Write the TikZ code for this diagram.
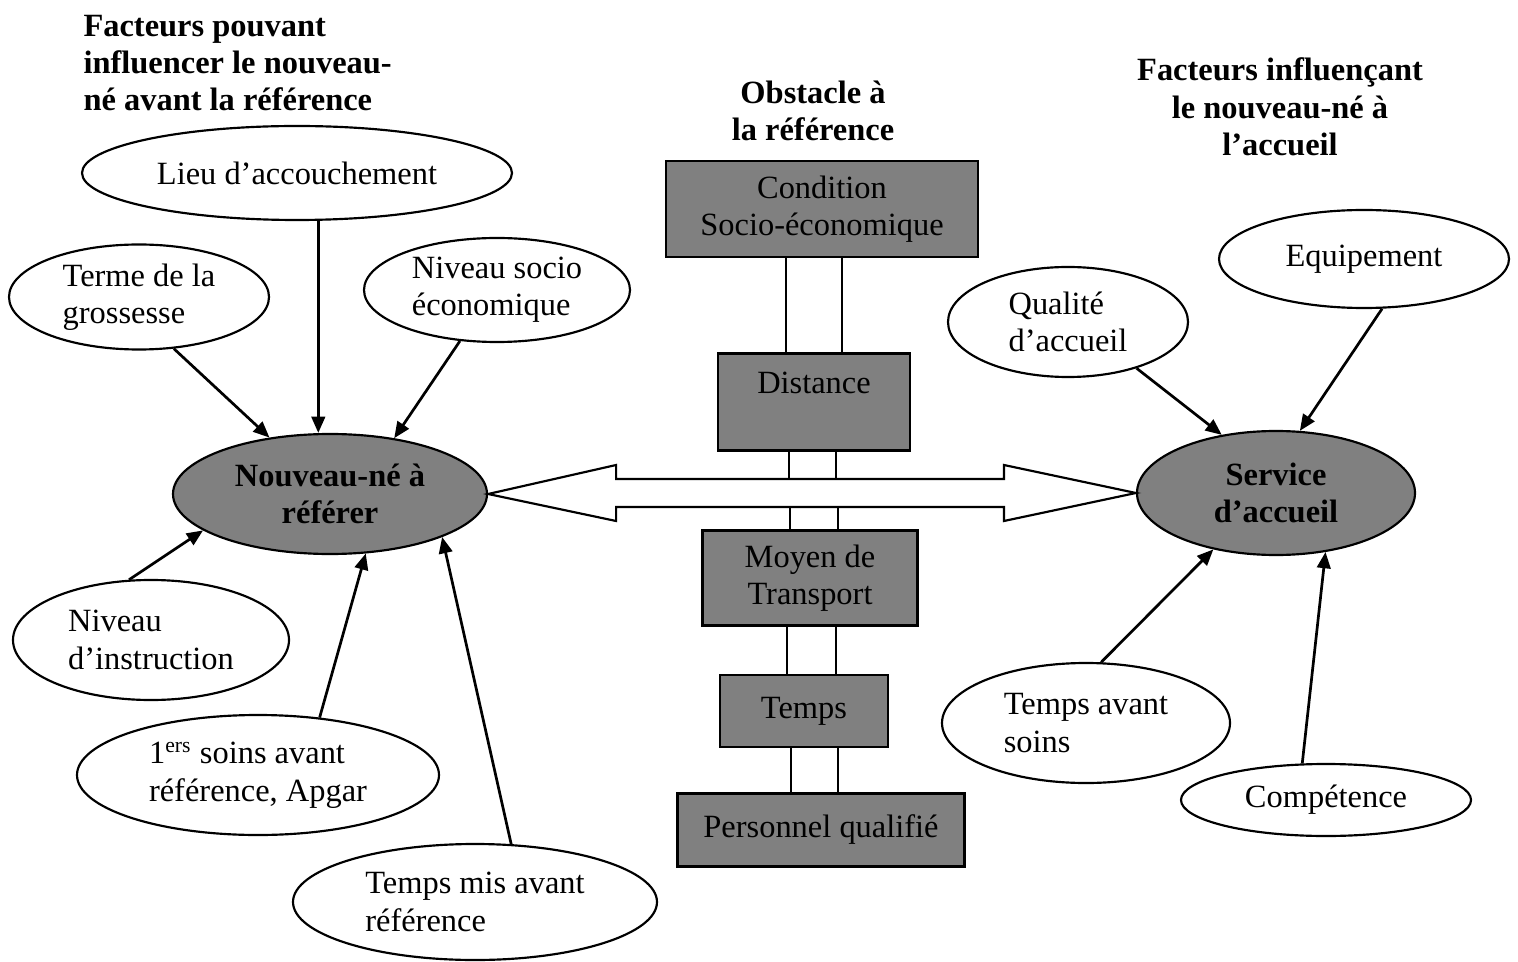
\documentclass[tikz,border=0pt]{standalone}
\usepackage{fontspec}
\setmainfont{Liberation Serif}
\usetikzlibrary{arrows.meta,shapes.geometric,calc}
\definecolor{boxgray}{HTML}{808080}
\newcommand{\px}{0.013cm}

\begin{document}
\begin{tikzpicture}[
  x=\px,y=-\px,
  font=\fontsize{12}{13.8}\selectfont,
  sz/.style 2 args={minimum width=#1*\px,minimum height=#2*\px},
  box/.style={draw,line width=0.8pt,fill=boxgray,align=center,inner sep=2pt},
  oval/.style={ellipse,draw,line width=0.8pt,fill=white,align=left,inner xsep=-6pt,inner ysep=-4pt},
  hub/.style={oval,fill=boxgray,align=center,font=\fontsize{12}{13.8}\selectfont\bfseries},
  head/.style={font=\fontsize{12}{13.8}\selectfont\bfseries,inner sep=0pt},
  arr/.style={-{Triangle[length=6pt,width=5pt]},line width=1pt},
  link/.style={line width=0.8pt},
  wide/.style={draw,line width=0.8pt,fill=white}]
\useasboundingbox (0,0) rectangle (1518,962);

% titres
\node[head,align=left,anchor=west] (ttl) at (83,63) {Facteurs pouvant\\influencer le nouveau-\\né avant la référence};
\node[head,align=center] (ttm) at (813,111) {Obstacle à\\la référence};
\node[head,align=center] (ttr) at (1280,107) {Facteurs influençant\\le nouveau-né à\\l’accueil};

% noeuds centraux
\node[hub,sz={314}{120}] (nouveau) at (330,494) {Nouveau-né à\\référer};
\node[hub,sz={278}{124}] (service) at (1276,493) {Service\\d’accueil};

% facteurs avant la reference
\node[oval,sz={430}{94}] (lieu) at (297,173) {Lieu d’accouchement};
\node[oval,sz={260}{105}] (terme) at (139,297) {Terme de la\\grossesse};
\node[oval,sz={266}{104}] (nivsoc) at (497,290) {Niveau socio\\économique};
\node[oval,sz={276}{120}] (nivinst) at (151,640) {Niveau\\d’instruction};
\node[oval,sz={362}{120}] (soins) at (258,775) {1\textsuperscript{ers} soins avant\\référence, Apgar};
\node[oval,sz={364}{116}] (tpsmis) at (475,902) {Temps mis avant\\référence};

% facteurs a l'accueil
\node[oval,sz={240}{110}] (qualite) at (1068,322) {Qualité\\d’accueil};
\node[oval,sz={290}{98}] (equip) at (1364,259) {Equipement};
\node[oval,sz={288}{120}] (tpsav) at (1086,723) {Temps avant\\soins};
\node[oval,sz={290}{72}] (compet) at (1326,800) {Compétence};

% obstacles
\node[box,sz={312}{96}] (cond) at (822,209) {Condition\\Socio-économique};
\node[box,sz={192}{97},text depth=14pt] (dist) at (814,402) {Distance};
\node[box,sz={215}{95}] (moyen) at (810,578) {Moyen de\\Transport};
\node[box,sz={168}{72}] (temps) at (804,711) {Temps};
\node[box,sz={287}{73}] (pers) at (821,830) {Personnel qualifié};

% double fleche
\draw[wide] (nouveau.east) -- ++(128,-29) -- ++(0,14) coordinate (shT)
  -- ($(service.west)+(-132,-14)$) -- ++(0,-14) -- (service.west)
  -- ++(-132,28) -- ++(0,-14) -- ($(nouveau.east)+(128,13)$) coordinate (shB)
  -- ++(0,14) -- cycle;

% liaisons doubles
\foreach \dx in {-36,20} \draw[link] ($(cond.south)+(\dx,0)$) coordinate (p) -- (p |- dist.north);
\foreach \dx in {-25,22} \draw[link] ($(dist.south)+(\dx,0)$) coordinate (p) -- (p |- shT);
\foreach \dx in {-20,28} \draw[link] ($(moyen.north)+(\dx,0)$) coordinate (p) -- (p |- shB);
\foreach \dx in {-23,26} \draw[link] ($(moyen.south)+(\dx,0)$) coordinate (p) -- (p |- temps.north);
\foreach \dx in {-13,34} \draw[link] ($(temps.south)+(\dx,0)$) coordinate (p) -- (p |- pers.north);

% fleches
\draw[arr] (lieu.-66) -- (lieu.-66 |- nouveau.north);
\draw[arr] (terme.-56) -- (nouveau.137);
\draw[arr] (nivsoc.-126) -- (nouveau.41);
\draw[arr] (nivinst.110) -- (nouveau.196);
\draw[arr] (soins.43) -- (nouveau.-59);
\draw[arr] (tpsmis.58) -- (nouveau.-21);
\draw[arr] (qualite.-34) -- (service.133);
\draw[arr] (equip.-70) -- (service.69);
\draw[arr] (tpsav.76) -- (service.222);
\draw[arr] (compet.123) -- (service.-50);
\end{tikzpicture}
\end{document}
